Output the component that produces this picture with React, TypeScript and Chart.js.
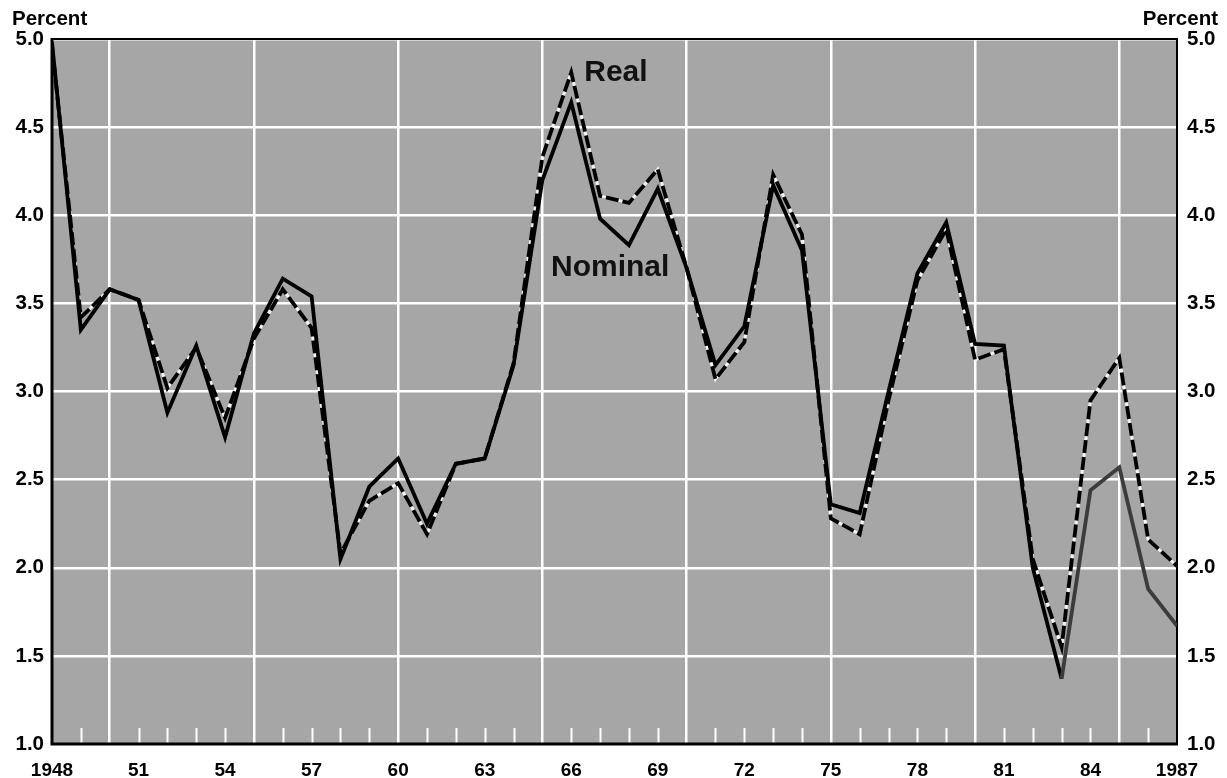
import React, { useEffect, useRef } from "react";
import { Chart, registerables } from "chart.js";

Chart.register(...registerables);

const years = [
  1948, 1949, 1950, 1951, 1952, 1953, 1954, 1955, 1956, 1957,
  1958, 1959, 1960, 1961, 1962, 1963, 1964, 1965, 1966, 1967,
  1968, 1969, 1970, 1971, 1972, 1973, 1974, 1975, 1976, 1977,
  1978, 1979, 1980, 1981, 1982, 1983, 1984, 1985, 1986, 1987,
];

const realRate = [
  4.96, 3.42, 3.58, 3.52, 3.02, 3.25, 2.85, 3.30, 3.58, 3.36,
  2.08, 2.38, 2.48, 2.19, 2.59, 2.62, 3.16, 4.33, 4.81, 4.11,
  4.07, 4.26, 3.70, 3.07, 3.28, 4.23, 3.89, 2.28, 2.19, 2.95,
  3.63, 3.92, 3.18, 3.24, 2.05, 1.55, 2.95, 3.19, 2.16, 2.01,
];

const nominalRate = [
  4.98, 3.35, 3.58, 3.52, 2.88, 3.26, 2.74, 3.33, 3.64, 3.54,
  2.05, 2.46, 2.62, 2.25, 2.59, 2.62, 3.15, 4.20, 4.64, 3.98,
  3.83, 4.15, 3.70, 3.15, 3.37, 4.17, 3.80, 2.36, 2.31, 3.00,
  3.67, 3.96, 3.27, 3.26, 2.00, 1.37, 2.44, 2.57, 1.88, 1.67,
];

const gridYears = [1950, 1955, 1960, 1965, 1970, 1975, 1980, 1985];
const yTickValues = [1.0, 1.5, 2.0, 2.5, 3.0, 3.5, 4.0, 4.5, 5.0];
const xMin = 1948;
const xMax = 1987;
const xLabelStep = 3;
const yMin = 1.0;
const yMax = 5.0;

const seriesLabels = [
  { text: "Real", year: 1966.45, value: 4.81 },
  { text: "Nominal", year: 1965.3, value: 3.7 },
];

const FAMILY = "'Liberation Sans', Arial, sans-serif";
const X_FONT = { family: FAMILY, size: 19, weight: "bold" as const };
const Y_FONT = { family: FAMILY, size: 20.5, weight: "bold" as const };

const decorPlugin = {
  id: "decor",
  beforeDraw(chart: any) {
    const { ctx, chartArea } = chart;
    const { left, top, right, bottom } = chartArea;
    ctx.save();
    ctx.fillStyle = "#a6a6a6";
    ctx.fillRect(left, top, right - left, bottom - top);
    ctx.restore();
  },
  beforeDatasetsDraw(chart: any) {
    const { ctx, chartArea } = chart;
    const { left, top, right, bottom } = chartArea;
    const xs = chart.scales.x;
    ctx.save();
    // minor yearly ticks
    ctx.strokeStyle = "#ffffff";
    ctx.lineWidth = 2;
    for (const yr of years) {
      if (gridYears.includes(yr) || yr === xMin || yr === xMax) continue;
      const px = Math.round(xs.getPixelForValue(yr)) + 0.5;
      ctx.beginPath();
      ctx.moveTo(px, bottom);
      ctx.lineTo(px, bottom - 16);
      ctx.stroke();
    }
    // frame
    ctx.strokeStyle = "#000";
    ctx.lineWidth = 2;
    ctx.beginPath();
    ctx.moveTo(left, top);
    ctx.lineTo(right, top);
    ctx.lineTo(right, bottom);
    ctx.stroke();
    ctx.lineWidth = 3;
    ctx.beginPath();
    ctx.moveTo(left, top - 1);
    ctx.lineTo(left, bottom);
    ctx.lineTo(right + 1, bottom);
    ctx.stroke();
    ctx.restore();
  },
  afterDatasetsDraw(chart: any) {
    const { ctx } = chart;
    const xs = chart.scales.x;
    const ys = chart.scales.y;
    ctx.save();
    ctx.fillStyle = "#111";
    ctx.font = "bold 30px " + FAMILY;
    ctx.textAlign = "left";
    ctx.textBaseline = "middle";
    for (const l of seriesLabels) {
      ctx.fillText(l.text, xs.getPixelForValue(l.year), ys.getPixelForValue(l.value));
    }
    ctx.restore();
  },
  afterDraw(chart: any) {
    const { ctx } = chart;
    ctx.save();
    ctx.fillStyle = "#000";
    ctx.font = "bold 20.5px " + FAMILY;
    ctx.textBaseline = "middle";
    ctx.textAlign = "left";
    ctx.fillText("Percent", 12, 19);
    ctx.textAlign = "right";
    ctx.fillText("Percent", 1218, 19);
    ctx.restore();
  },
};

export default function App() {
  const canvasRef = useRef<HTMLCanvasElement | null>(null);

  useEffect(() => {
    document.body.style.margin = "0";
    const canvas = canvasRef.current;
    if (!canvas) return;
    const realPts = years.map((y, i) => ({ x: y, y: realRate[i] }));
    const nomPts = years.map((y, i) => ({ x: y, y: nominalRate[i] }));

    const chart = new Chart(canvas, {
      type: "line",
      data: {
        datasets: [
          {
            label: "Real",
            data: realPts,
            borderColor: "#000",
            borderWidth: 3.8,
            borderDash: [13, 4],
            pointRadius: 0,
            tension: 0,
            order: 1,
          },
          {
            label: "Nominal",
            data: nomPts,
            borderColor: "#000",
            borderWidth: 3.8,
            pointRadius: 0,
            tension: 0,
            order: 2,
            segment: {
              borderColor: (c: any) => (c.p0.parsed.x >= 1983 ? "#3c3c3c" : "#000"),
            },
          },
          {
            label: "Real underlay",
            data: realPts,
            borderColor: "#f4f4f4",
            borderWidth: 3,
            pointRadius: 0,
            tension: 0,
            order: 3,
          },
        ],
      },
      options: {
        responsive: false,
        animation: false,
        layout: { padding: { top: 39, left: 0, right: 0, bottom: 0 } },
        plugins: { legend: { display: false }, tooltip: { enabled: false } },
        scales: {
          x: {
            type: "linear",
            position: "bottom",
            min: xMin,
            max: xMax,
            grid: { display: false, drawTicks: false },
            border: { display: false },
            ticks: {
              stepSize: xLabelStep,
              autoSkip: false,
              maxRotation: 0,
              padding: 15,
              color: "#000",
              font: X_FONT,
              callback: (v: any) => (v === xMin || v === xMax ? String(v) : String(v).slice(2)),
            },
            afterFit: (s: any) => {
              s.height = 34;
            },
          },
          x2: {
            type: "linear",
            position: "bottom",
            min: xMin,
            max: xMax,
            grid: { color: "#ffffff", lineWidth: 2.5, drawTicks: false },
            border: { display: false },
            ticks: { display: false },
            afterBuildTicks: (s: any) => {
              s.ticks = gridYears.map((v) => ({ value: v }));
            },
            afterFit: (s: any) => {
              s.height = 0;
            },
          },
          y: {
            type: "linear",
            position: "left",
            min: yMin,
            max: yMax,
            grid: { color: "#ffffff", lineWidth: 2.5, drawTicks: false },
            border: { display: false },
            ticks: {
              padding: 8,
              color: "#000",
              font: Y_FONT,
              callback: (v: any) => Number(v).toFixed(1),
            },
            afterBuildTicks: (s: any) => {
              s.ticks = yTickValues.map((v) => ({ value: v }));
            },
            afterFit: (s: any) => {
              s.width = 52;
            },
          },
          y2: {
            type: "linear",
            position: "right",
            min: yMin,
            max: yMax,
            grid: { display: false, drawTicks: false },
            border: { display: false },
            ticks: {
              padding: 10,
              color: "#000",
              font: Y_FONT,
              callback: (v: any) => Number(v).toFixed(1),
            },
            afterBuildTicks: (s: any) => {
              s.ticks = yTickValues.map((v) => ({ value: v }));
            },
            afterFit: (s: any) => {
              s.width = 50;
            },
          },
        },
      },
      plugins: [decorPlugin],
    });
    return () => chart.destroy();
  }, []);

  return (
    <div style={{ width: 1227, height: 778 }}>
      <canvas ref={canvasRef} width={1227} height={778} style={{ display: "block" }} />
    </div>
  );
}
